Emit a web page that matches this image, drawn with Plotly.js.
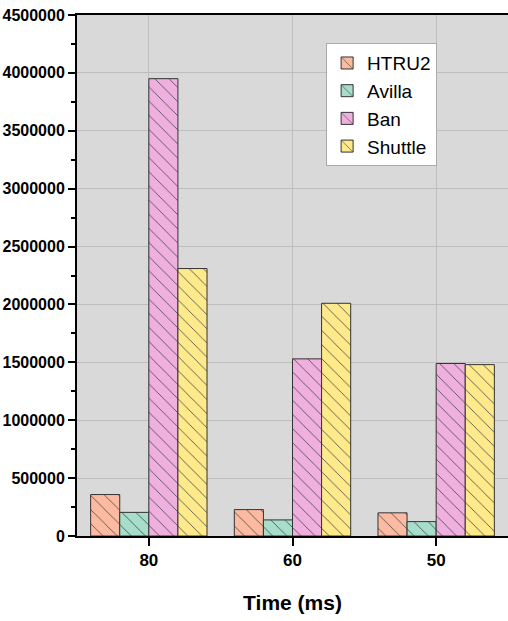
<!DOCTYPE html>
<html>
<head>
<meta charset="utf-8">
<script src="https://cdn.plot.ly/plotly-3.0.1.min.js"></script>
<style>html,body{margin:0;padding:0;background:#fff;}#chart{width:508px;height:621px;}</style>
</head>
<body>
<div id="chart"></div>
<script>
const categories = ["80", "60", "50"];
const seriesNames = ["HTRU2", "Avilla", "Ban", "Shuttle"];
const htru2 = [358000, 228000, 200000];
const avilla = [204000, 139000, 124000];
const ban = [3950000, 1530000, 1490000];
const shuttle = [2310000, 2010000, 1480000];
const seriesColors = ["#FCBBA1", "#A6DDCB", "#EFAFDF", "#FEE98B"];
const yTickVals = [0, 500000, 1000000, 1500000, 2000000, 2500000, 3000000, 3500000, 4000000, 4500000];

const FONT = "Liberation Sans, Arial, sans-serif";
const seriesValues = [htru2, avilla, ban, shuttle];
const traces = seriesValues.map((vals, i) => ({
  type: "bar",
  name: seriesNames[i],
  x: categories,
  y: vals,
  marker: {
    color: seriesColors[i],
    line: {color: "#333333", width: 1},
    pattern: {shape: "\\", fgcolor: "#444444", bgcolor: seriesColors[i], size: 10, solidity: 0.08}
  }
}));

const layout = {
  width: 508, height: 621,
  margin: {l: 77, r: 0, t: 15, b: 85},
  paper_bgcolor: "#ffffff",
  plot_bgcolor: "#D9D9D9",
  barmode: "group",
  bargap: 0.19,
  bargroupgap: 0,
  showlegend: true,
  legend: {
    x: 0.578, y: 0.946, xanchor: "left", yanchor: "top",
    bgcolor: "#ffffff", bordercolor: "#aaaaaa", borderwidth: 1,
    font: {family: FONT, size: 19, color: "#000"},
    itemwidth: 30,
    tracegroupgap: 0
  },
  xaxis: {
    type: "category",
    range: [-0.5, 2.5],
    showline: true, linecolor: "#000", linewidth: 2,
    mirror: true,
    ticks: "outside", ticklen: 8, tickwidth: 2, tickcolor: "#000",
    showgrid: true, gridcolor: "#BEBEBE", gridwidth: 1,
    tickfont: {family: FONT, size: 17, color: "#000", weight: "bold"},
    title: {text: "Time (ms)", font: {family: FONT, size: 21, color: "#000", weight: "bold"}, standoff: 26},
    zeroline: false
  },
  xaxis2: {
    overlaying: "x",
    type: "linear",
    range: [-0.5, 2.5],
    tickvals: [0.5, 1.5],
    showticklabels: false,
    ticks: "outside", ticklen: 5, tickwidth: 2, tickcolor: "#000",
    showgrid: true, gridcolor: "#C8C8C8", gridwidth: 1, griddash: "dot",
    showline: false, zeroline: false,
    anchor: "y", side: "bottom"
  },
  yaxis: {
    range: [0, 4500000],
    tickvals: yTickVals,
    tickformat: "d",
    showline: true, linecolor: "#000", linewidth: 2,
    ticks: "outside", ticklen: 7, tickwidth: 2, tickcolor: "#000",
    minor: {dtick: 250000, ticks: "outside", ticklen: 4, tickwidth: 2, tickcolor: "#000", showgrid: false},
    showgrid: true, gridcolor: "#BEBEBE", gridwidth: 1,
    tickfont: {family: FONT, size: 16, color: "#000", weight: "bold"},
    zeroline: false
  }
};

Plotly.newPlot("chart", traces, layout, {displayModeBar: false, staticPlot: true});
</script>
</body>
</html>
